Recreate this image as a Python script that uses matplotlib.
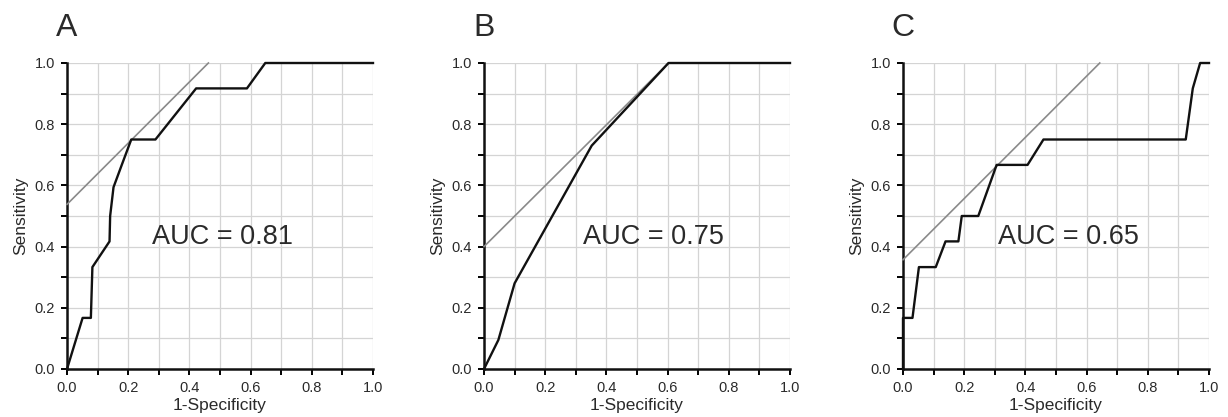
import matplotlib as mpl
mpl.use('Agg')
import matplotlib.pyplot as plt
import numpy as np

mpl.rcParams['font.family'] = ['Liberation Sans', 'DejaVu Sans']

# ROC curves
fpr_a = [0, 0.051, 0.078, 0.083, 0.139, 0.141, 0.152, 0.179, 0.21, 0.289, 0.422, 0.588, 0.648, 1.0]
tpr_a = [0, 0.167, 0.167, 0.333, 0.417, 0.5, 0.594, 0.667, 0.75, 0.75, 0.917, 0.917, 1.0, 1.0]

fpr_b = [0, 0.047, 0.1, 0.352, 0.603, 1.0]
tpr_b = [0, 0.095, 0.28, 0.73, 1.0, 1.0]

fpr_c = [0, 0, 0.031, 0.052, 0.107, 0.139, 0.181, 0.192, 0.246, 0.306, 0.407, 0.459, 0.924, 0.947, 0.971, 1.0]
tpr_c = [0, 0.167, 0.167, 0.333, 0.333, 0.417, 0.417, 0.5, 0.5, 0.667, 0.667, 0.75, 0.75, 0.917, 1.0, 1.0]

# grey tangent (cut-off) lines
tan_x = [[0, 0.462], [0, 0.603], [0, 0.643]]
tan_y = [[0.538, 1.0], [0.4, 1.0], [0.357, 1.0]]

panel_labels = ['A', 'B', 'C']
auc_values = [0.81, 0.75, 0.65]
auc_pos = [(0.508, 0.432), (0.553, 0.432), (0.540, 0.432)]

curves = [(fpr_a, tpr_a), (fpr_b, tpr_b), (fpr_c, tpr_c)]

W, H = 1228, 417
fig = plt.figure(figsize=(W / 100, H / 100), dpi=100)
lefts = [67, 484, 903]
txt_col = '#2a2a2a'

for i in range(3):
  ax = fig.add_axes([lefts[i] / W, 48 / H, 306 / W, 306 / H])
  ax.set_xlim(0, 1)
  ax.set_ylim(0, 1)

  ticks = np.arange(0, 1.01, 0.2)
  ax.set_xticks(ticks)
  ax.set_yticks(ticks)
  ax.set_xticks(np.arange(0.1, 1.0, 0.2), minor=True)
  ax.set_yticks(np.arange(0.1, 1.0, 0.2), minor=True)
  ax.set_xticklabels(['%.1f' % t for t in ticks])
  ax.set_yticklabels(['%.1f' % t for t in ticks])
  ax.tick_params(which='both', direction='out', length=4, width=1.4,
                 labelsize=10.5, labelcolor=txt_col, pad=4.5)
  ax.grid(which='both', color='#d4d4d4', lw=0.9)
  ax.set_axisbelow(True)

  for s in ['top', 'right']:
    ax.spines[s].set_visible(False)
  for s in ['left', 'bottom']:
    ax.spines[s].set_linewidth(1.8)
    ax.spines[s].set_color('#111111')

  ax.plot(tan_x[i], tan_y[i], color='#8a8a8a', lw=1.2, clip_on=False, zorder=3)
  fx, ty = curves[i]
  ax.plot(fx, ty, color='#111111', lw=1.7, clip_on=False, zorder=4)

  ax.text(auc_pos[i][0], auc_pos[i][1], 'AUC = %.2f' % auc_values[i],
          fontsize=19.5, color=txt_col, ha='center', va='center')

  ax.set_xlabel('1-Specificity', fontsize=12.5, color=txt_col, labelpad=2.5)
  ax.set_ylabel('Sensitivity', fontsize=12.5, color=txt_col, labelpad=5)

  fig.text(lefts[i] / W, 1 - 28 / H, panel_labels[i], fontsize=23,
           color=txt_col, ha='center', va='center')

fig.savefig('out.png', dpi=100)
